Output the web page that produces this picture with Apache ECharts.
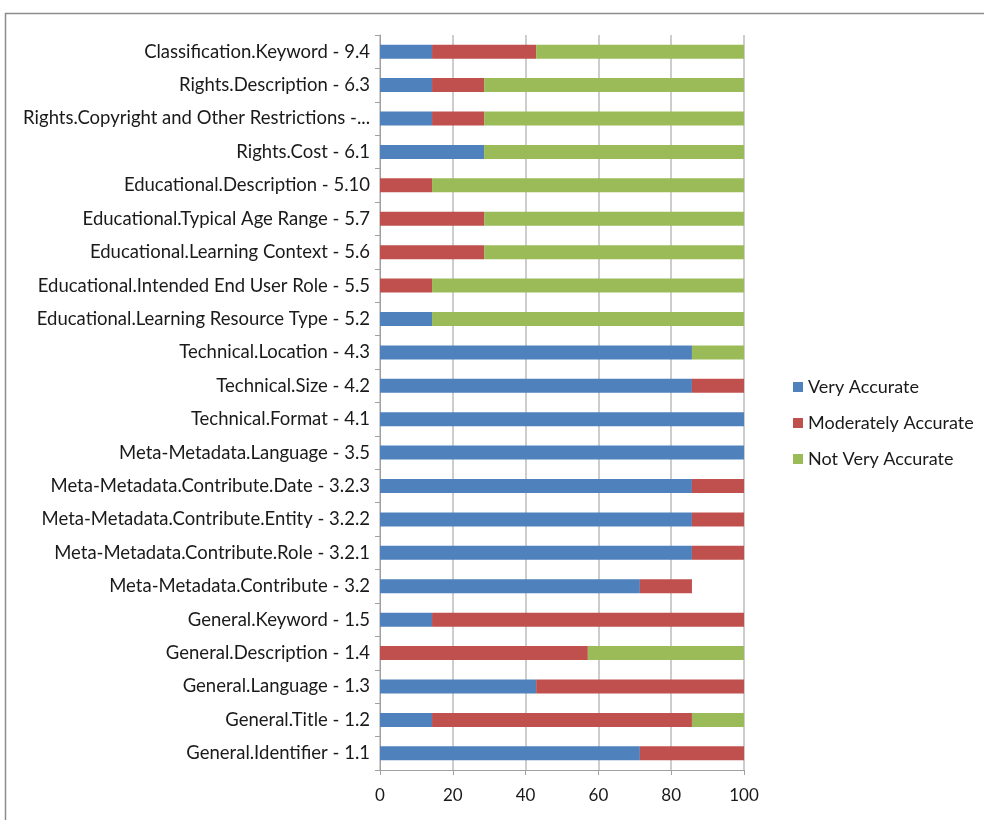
<!DOCTYPE html>
<html>
<head>
<meta charset="utf-8">
<script src="https://cdn.jsdelivr.net/npm/echarts@6/dist/echarts.min.js"></script>
<style>
  html, body { margin: 0; padding: 0; background: #fff; }
  #chart { width: 984px; height: 820px; }
</style>
</head>
<body>
<div id="chart"></div>
<script>
// categories listed bottom -> top (ECharts draws first category at the bottom)
const categories = [
  'General.Identifier - 1.1',
  'General.Title - 1.2',
  'General.Language - 1.3',
  'General.Description - 1.4',
  'General.Keyword - 1.5',
  'Meta-Metadata.Contribute - 3.2',
  'Meta-Metadata.Contribute.Role - 3.2.1',
  'Meta-Metadata.Contribute.Entity - 3.2.2',
  'Meta-Metadata.Contribute.Date - 3.2.3',
  'Meta-Metadata.Language - 3.5',
  'Technical.Format - 4.1',
  'Technical.Size - 4.2',
  'Technical.Location - 4.3',
  'Educational.Learning Resource Type - 5.2',
  'Educational.Intended End User Role - 5.5',
  'Educational.Learning Context - 5.6',
  'Educational.Typical Age Range - 5.7',
  'Educational.Description - 5.10',
  'Rights.Cost - 6.1',
  'Rights.Copyright and Other Restrictions -...',
  'Rights.Description - 6.3',
  'Classification.Keyword - 9.4'
];

const veryAccurate = [71.4, 14.3, 42.9, 0, 14.3, 71.4, 85.7, 85.7, 85.7, 100, 100, 85.7, 85.7, 14.3, 0, 0, 0, 0, 28.6, 14.3, 14.3, 14.3];
const moderatelyAccurate = [28.6, 71.4, 57.1, 57.1, 85.7, 14.3, 14.3, 14.3, 14.3, 0, 0, 14.3, 0, 0, 14.3, 28.6, 28.6, 14.3, 0, 14.3, 14.3, 28.6];
const notVeryAccurate = [0, 14.3, 0, 42.9, 0, 0, 0, 0, 0, 0, 0, 0, 14.3, 85.7, 85.7, 71.4, 71.4, 85.7, 71.4, 71.4, 71.4, 57.1];

const xTicks = { min: 0, max: 100, interval: 20 };

const font = 'Lato, "Liberation Sans", sans-serif';

let myChart = echarts.init(document.getElementById('chart'));

const barSeries = (name, data, color) => ({
  name: name,
  type: 'bar',
  stack: 'total',
  barWidth: 14,
  itemStyle: { color: color },
  emphasis: { disabled: true },
  data: data
});

myChart.setOption({
  animation: false,
  textStyle: { fontFamily: font },
  graphic: [{
    type: 'rect',
    shape: { x: 5.5, y: 13.5, width: 1100, height: 1000 },
    style: { fill: 'none', stroke: '#8c8c8c', lineWidth: 1.5 },
    silent: true
  }],
  legend: {
    orient: 'vertical',
    left: 788,
    top: 373,
    itemWidth: 10,
    itemHeight: 10,
    itemGap: 18,
    icon: 'rect',
    textStyle: { fontSize: 18, color: '#1a1a1a', fontFamily: font },
    data: ['Very Accurate', 'Moderately Accurate', 'Not Very Accurate']
  },
  grid: { left: 380, right: 240, top: 35, bottom: 50, containLabel: false },
  xAxis: {
    type: 'value',
    min: xTicks.min,
    max: xTicks.max,
    interval: xTicks.interval,
    axisLine: { show: true, lineStyle: { color: '#a0a0a0', width: 1 } },
    axisTick: { show: true, length: 5, lineStyle: { color: '#a0a0a0' } },
    axisLabel: { fontSize: 17, color: '#1a1a1a', margin: 17, fontFamily: font },
    splitLine: { show: true, lineStyle: { color: '#bcbcbc', width: 1.5 } }
  },
  yAxis: {
    type: 'category',
    data: categories,
    axisLine: { show: true, lineStyle: { color: '#a0a0a0', width: 1 } },
    axisTick: { show: true, length: 5, lineStyle: { color: '#a0a0a0' } },
    axisLabel: { fontSize: 18.5, color: '#1a1a1a', margin: 10, fontFamily: font }
  },
  series: [
    barSeries('Very Accurate', veryAccurate, '#4F81BD'),
    barSeries('Moderately Accurate', moderatelyAccurate, '#C0504D'),
    barSeries('Not Very Accurate', notVeryAccurate, '#9BBB59')
  ]
});
</script>
</body>
</html>
